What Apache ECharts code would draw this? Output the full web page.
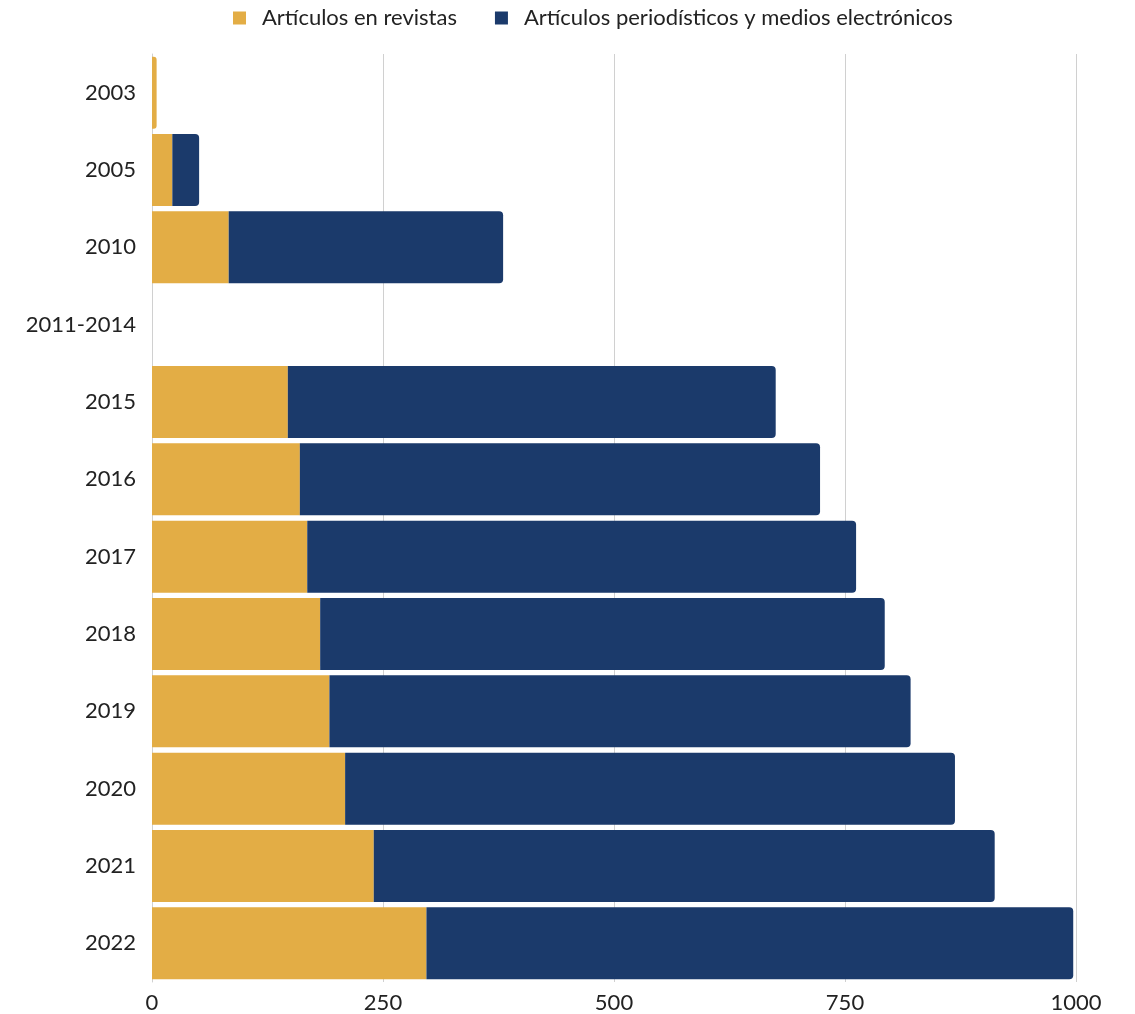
<!DOCTYPE html>
<html>
<head>
<meta charset="utf-8">
<script src="https://cdn.jsdelivr.net/npm/echarts@6/dist/echarts.min.js"></script>
<style>
  html, body { margin: 0; padding: 0; background: #fff; }
  #main { width: 1135px; height: 1014px; }
</style>
</head>
<body>
<div id="main"></div>
<script>
// categorias (años) y valores de cada serie
var years = ['2003', '2005', '2010', '2011-2014', '2015', '2016', '2017', '2018', '2019', '2020', '2021', '2022'];
var revistas = [5, 22, 83, 0, 147, 160, 168, 182, 192, 209, 240, 297];
var periodisticos = [0, 29, 297, 0, 528, 563, 594, 611, 629, 660, 672, 700];
var xTicks = [0, 250, 500, 750, 1000];

var myChart = echarts.init(document.getElementById('main'));

// si no hay barra azul, la amarilla lleva las esquinas redondeadas
var revistasData = revistas.map(function (v, i) {
    if (periodisticos[i] === 0) {
        return { value: v, itemStyle: { borderRadius: [0, 3, 3, 0] } };
    }
    return v;
});

var option = {
    animation: false,
    textStyle: { fontFamily: 'Lato' },
    legend: {
        top: 2,
        left: 228,
        itemWidth: 13,
        itemHeight: 13,
        itemGap: 38,
        icon: 'rect',
        textStyle: { fontSize: 22, color: '#222', fontFamily: 'Lato', padding: [0, 0, 0, 11] },
        data: ['Artículos en revistas', 'Artículos periodísticos y medios electrónicos']
    },
    grid: {
        left: 152,
        right: 59,
        top: 54,
        bottom: 31,
        containLabel: false
    },
    xAxis: {
        type: 'value',
        min: xTicks[0],
        max: xTicks[xTicks.length - 1],
        interval: 250,
        axisLine: { show: false },
        axisTick: { show: false },
        axisLabel: {
            fontSize: 22, color: '#222', margin: 10,
            formatter: function (v) { return String(v); }
        },
        splitLine: { lineStyle: { color: '#d0d0d0', width: 1 } }
    },
    yAxis: {
        type: 'category',
        inverse: true,
        data: years,
        axisLine: { show: true, lineStyle: { color: '#d0d0d0' } },
        axisTick: { show: false },
        axisLabel: { fontSize: 22, color: '#222', margin: 16 }
    },
    series: [{
        name: 'Artículos en revistas',
        type: 'bar',
        stack: 'total',
        barCategoryGap: '7%',
        itemStyle: { color: '#E3AD45' },
        data: revistasData
    }, {
        name: 'Artículos periodísticos y medios electrónicos',
        type: 'bar',
        stack: 'total',
        barCategoryGap: '7%',
        itemStyle: { color: '#1B3A6B', borderRadius: [0, 4, 4, 0] },
        data: periodisticos
    }]
};

myChart.setOption(option);
window.addEventListener('resize', function () {
    myChart.resize();
});
</script>
</body>
</html>
